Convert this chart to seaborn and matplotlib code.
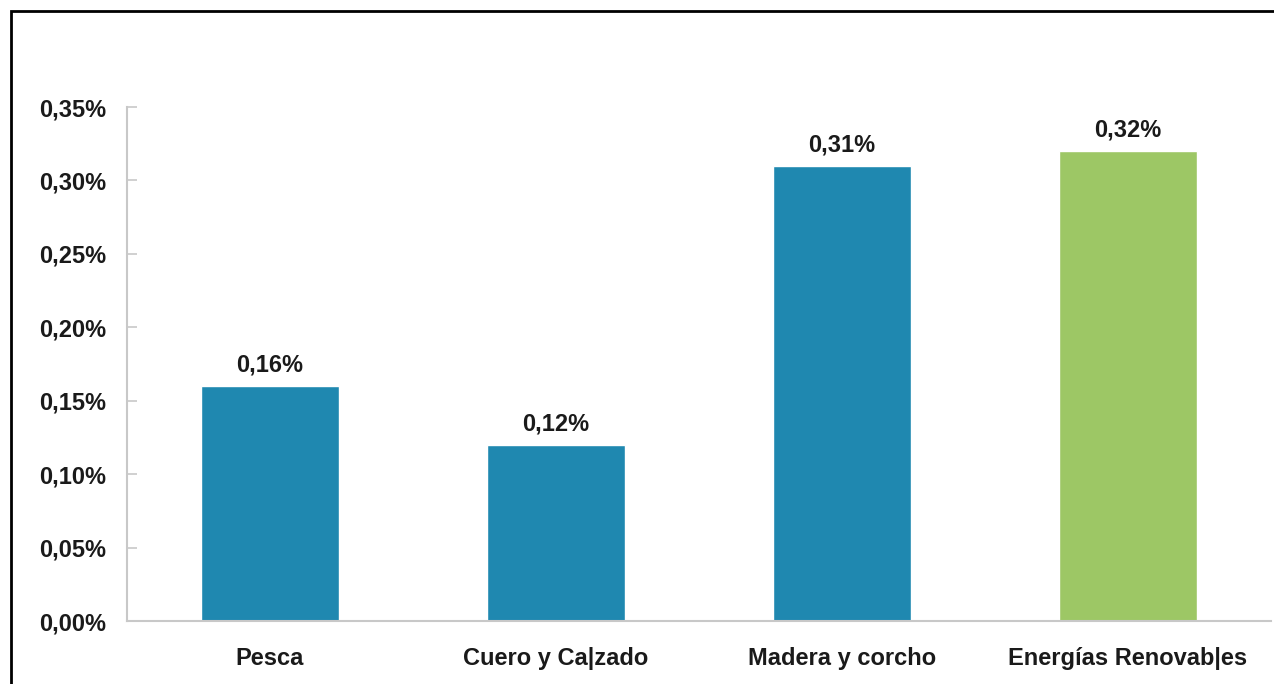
import matplotlib
matplotlib.use("Agg")
import matplotlib.pyplot as plt
import seaborn as sns
import pandas as pd
from matplotlib.patches import Rectangle
from matplotlib.ticker import FuncFormatter

categories = ["Pesca", "Cuero y Ca|zado", "Madera y corcho", "Energías Renovab|es"]
values = [0.16, 0.12, 0.31, 0.32]
colors = ["#1f88b0", "#1f88b0", "#1f88b0", "#9dc765"]
yticks = [0.00, 0.05, 0.10, 0.15, 0.20, 0.25, 0.30, 0.35]

sns.set_theme(style="white")
plt.rcParams["font.family"] = ["Liberation Sans", "DejaVu Sans"]
plt.rcParams["font.weight"] = "bold"

df = pd.DataFrame({"cat": categories, "val": values})

fig = plt.figure(figsize=(12.74, 6.84), dpi=100)
fig.patch.set_facecolor("white")
ax = fig.add_axes([127/1274, 1-621/684, (1271-127)/1274, (621-107)/684])

sns.barplot(data=df, x="cat", y="val", hue="cat", palette=colors, width=0.48,
            legend=False, ax=ax, saturation=1)

ax.set_xlim(-0.5, 3.5)
ax.set_ylim(0, 0.35)
ax.set_yticks(yticks)
ax.yaxis.set_major_formatter(FuncFormatter(lambda v, p: f"{v:.2f}%".replace(".", ",")))
ax.set_xlabel("")
ax.set_ylabel("")

for s in ["top", "right"]:
    ax.spines[s].set_visible(False)
for s in ["left", "bottom"]:
    ax.spines[s].set_color("#c8c8c8")
    ax.spines[s].set_linewidth(1.5)

ax.tick_params(axis="y", direction="in", length=7, width=1.2, color="#c8c8c8",
               pad=15, labelsize=17, labelcolor="#1a1a1a", left=True)
ax.tick_params(axis="x", length=0, pad=19, labelsize=17, labelcolor="#1a1a1a")
for lab in ax.get_xticklabels() + ax.get_yticklabels():
    lab.set_fontweight("bold")

for cont in ax.containers:
    ax.bar_label(cont, labels=[f"{v.get_height():.2f}%".replace(".", ",") for v in cont],
                 padding=7, fontsize=17, fontweight="bold", color="#1a1a1a")

# figure frame (top and left black border)
fig.patches.append(Rectangle((11/1274, -0.1), 1.2, 1 - 11/684 + 0.1, transform=fig.transFigure,
                             fill=False, edgecolor="black", linewidth=2, figure=fig))

fig.savefig("out.png", dpi=100)
